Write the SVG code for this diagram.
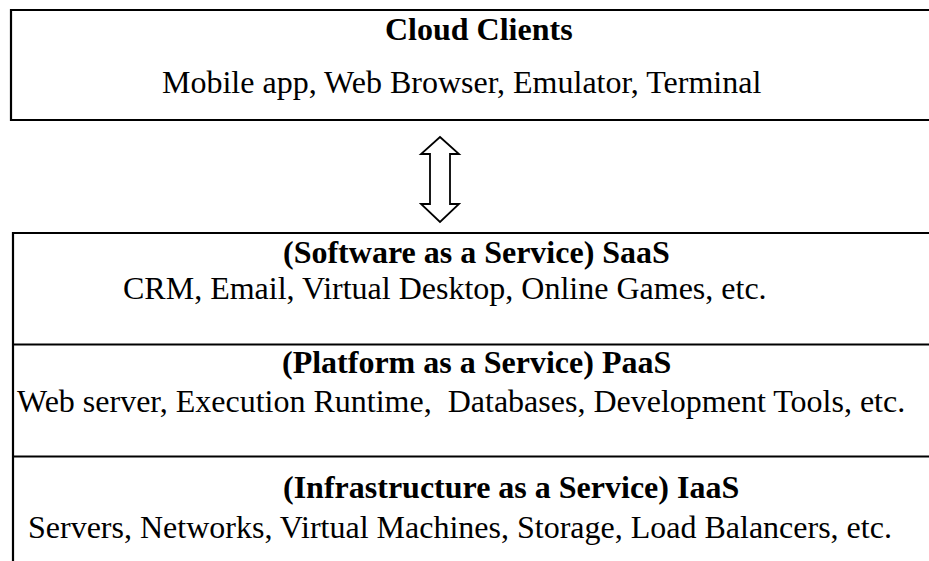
<svg xmlns="http://www.w3.org/2000/svg" width="929" height="561" viewBox="0 0 929 561">
  <style>
    .frame { fill: none; stroke: #000; stroke-width: 2.2; }
    .sep { stroke: #000; stroke-width: 2.2; }
    text { font-family: 'Liberation Serif', Tinos, 'Times New Roman', 'Nimbus Roman', 'DejaVu Serif', serif; font-size: 32px; fill: #000; }
    .title { font-weight: bold; }
  </style>
  <rect width="929" height="561" fill="#fff"/>

  <!-- Client layer -->
  <g id="cloud-clients">
    <path class="frame" d="M940,10 H11 V120 H940"/>
    <text class="title" x="385" y="40">Cloud Clients</text>
    <text class="body" x="162" y="93">Mobile app, Web Browser, Emulator, Terminal</text>
  </g>

  <!-- Two-way link between clients and the service stack -->
  <g id="connectors">
    <polygon points="440,137 459,154 450,154 450,204 459,204 440,222 421,204 430,204 430,154 421,154"
             fill="#fff" stroke="#000" stroke-width="1.8" stroke-linejoin="miter"/>
  </g>

  <!-- Service stack -->
  <g id="service-stack">
    <path class="frame" d="M940,233 H13 V561"/>
  </g>

  <g id="saas">
    <text class="title" x="283" y="263">(Software as a Service) SaaS</text>
    <text class="body" x="123" y="299">CRM, Email, Virtual Desktop, Online Games, etc.</text>
  </g>

  <g id="paas">
    <line class="sep" x1="13" y1="344.5" x2="929" y2="344.5"/>
    <text class="title" x="282" y="373">(Platform as a Service) PaaS</text>
    <text class="body" x="17" y="411.5" xml:space="preserve">Web server, Execution Runtime,  Databases, Development Tools, etc.</text>
  </g>

  <g id="iaas">
    <line class="sep" x1="13" y1="456.5" x2="929" y2="456.5"/>
    <text class="title" x="283" y="498">(Infrastructure as a Service) IaaS</text>
    <text class="body" x="28" y="537.5">Servers, Networks, Virtual Machines, Storage, Load Balancers, etc.</text>
  </g>
</svg>
